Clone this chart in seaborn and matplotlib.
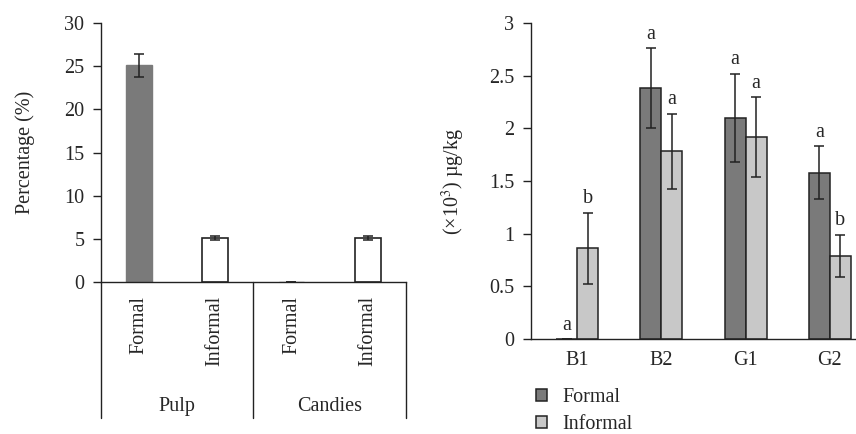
import numpy as np
import pandas as pd
import seaborn as sns
import matplotlib.pyplot as plt
import matplotlib.transforms as mtransforms

# left panel: share of samples (%)
left_groups = ["Pulp", "Pulp", "Candies", "Candies"]
left_types = ["Formal", "Informal", "Formal", "Informal"]
left_values = [25.1, 5.1, 0.0, 5.1]
left_errors = [1.3, 0.25, 0.0, 0.25]

# right panel: aflatoxin content (x10^3 ug/kg)
toxins = ["B1", "B2", "G1", "G2"]
formal_values = [0.0, 2.38, 2.10, 1.58]
formal_errors = [0.0, 0.38, 0.42, 0.25]
informal_values = [0.86, 1.78, 1.92, 0.79]
informal_errors = [0.34, 0.36, 0.38, 0.20]
formal_letters = ["a", "a", "a", "a"]
informal_letters = ["b", "a", "a", "b"]

sns.set_style("ticks")
plt.rcParams['font.family'] = ['Liberation Serif', 'DejaVu Serif']
plt.rcParams['mathtext.fontset'] = 'stix'
plt.rcParams['font.size'] = 14.5

dark = "#7a7a7a"
light = "#c8c8c8"
ink = "#222222"

fig = plt.figure(figsize=(8.56, 4.34), dpi=100)
ax1 = fig.add_axes([0.118, 0.350, 0.356, 0.597])
ax2 = fig.add_axes([0.620, 0.219, 0.380, 0.728])

# ---- left panel
left_df = pd.DataFrame({
    "key": [f"{g} {t}" for g, t in zip(left_groups, left_types)],
    "type": left_types,
    "value": left_values,
})
sns.barplot(data=left_df, x="key", y="value", hue="type", dodge=False,
            palette={"Formal": dark, "Informal": "white"}, width=0.34,
            legend=False, ax=ax1)
for bar in ax1.patches:
    if bar.get_facecolor()[0] > 0.9:
        bar.set_edgecolor(ink)
        bar.set_linewidth(1.2)
    else:
        bar.set_edgecolor(dark)
xpos = np.arange(len(left_values))
ax1.errorbar(xpos, left_values, yerr=left_errors, fmt="none", ecolor=ink,
             elinewidth=1.1, capsize=3.5, capthick=1.1)
ax1.set_xlim(-0.5, len(left_values) - 0.5)
ax1.set_ylim(0, 30)
ax1.set_yticks(np.arange(0, 31, 5))
ax1.set_xticks(xpos)
ax1.set_xticklabels(left_types, rotation=90)
ax1.tick_params(axis="x", length=0, pad=10)
ax1.tick_params(axis="y", length=6, width=1, color=ink, pad=6)
ax1.set_xlabel("")
ax1.set_ylabel("Percentage (%)", labelpad=21)
sns.despine(ax=ax1)
for s in ["left", "bottom"]:
    ax1.spines[s].set_color(ink)
    ax1.spines[s].set_linewidth(1)

trans = mtransforms.blended_transform_factory(ax1.transData, ax1.transAxes)
for xb in [-0.5, 1.5, 3.5]:
    ax1.plot([xb, xb], [0, -0.525], color=ink, lw=1, transform=trans, clip_on=False)
group_names = list(dict.fromkeys(left_groups))
for i, g in enumerate(group_names):
    ax1.text(2 * i + 0.5, -0.479, g, transform=trans, ha="center", va="center")

# ---- right panel
right_df = pd.DataFrame({
    "toxin": toxins * 2,
    "type": ["Formal"] * len(toxins) + ["Informal"] * len(toxins),
    "value": formal_values + informal_values,
})
sns.barplot(data=right_df, x="toxin", y="value", hue="type", width=0.5,
            palette={"Formal": dark, "Informal": light}, edgecolor=ink,
            linewidth=1.1, ax=ax2)
xt = np.arange(len(toxins))
for off, vals, errs, letters in [(-0.125, formal_values, formal_errors, formal_letters),
                                 (0.125, informal_values, informal_errors, informal_letters)]:
    ax2.errorbar(xt + off, vals, yerr=errs, fmt="none", ecolor=ink,
                 elinewidth=1.1, capsize=3.5, capthick=1.1)
    for x, v, e, lab in zip(xt + off, vals, errs, letters):
        ax2.text(x, v + e + 0.04, lab, ha="center", va="bottom")

ax2.set_xlim(-0.55, 3.31)
ax2.set_ylim(0, 3)
ax2.set_yticks([0, 0.5, 1, 1.5, 2, 2.5, 3])
ax2.set_yticklabels(["0", "0.5", "1", "1.5", "2", "2.5", "3"])
ax2.tick_params(axis="x", length=0, pad=9)
ax2.tick_params(axis="y", length=6, width=1, color=ink, pad=6)
ax2.set_xlabel("")
ax2.set_ylabel(r"(×10$^{3}$) µg/kg", labelpad=16)
sns.despine(ax=ax2)
for s in ["left", "bottom"]:
    ax2.spines[s].set_color(ink)
    ax2.spines[s].set_linewidth(1)

handles, labels = ax2.get_legend_handles_labels()
ax2.legend(handles, labels, loc="upper left", bbox_to_anchor=(-0.01, -0.13),
           frameon=False, handlelength=0.55, handleheight=0.55, handletextpad=0.8,
           labelspacing=0.4, borderaxespad=0)

fig.savefig("out.png", dpi=100)
